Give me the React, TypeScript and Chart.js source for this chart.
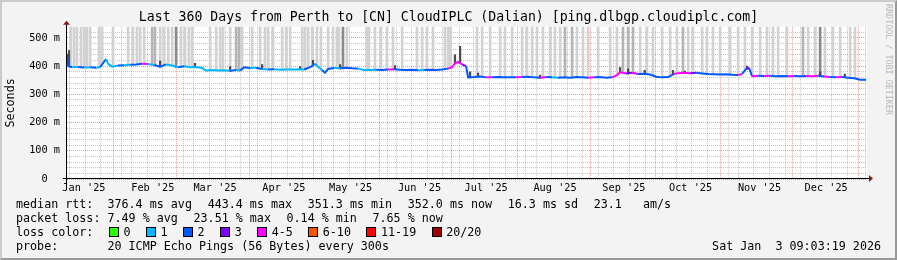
import React, { useEffect, useRef } from 'react';
import { Chart, registerables } from 'chart.js';

Chart.register(...registerables);

const FONT = "'DejaVu Sans Mono', monospace";

// ---- time window: last 360 days ending Sat Jan 3 2026 09:03:19 (Perth, UTC+8)
const END_UTC = Date.UTC(2026, 0, 3, 1, 3, 19);
const SPAN_DAYS = 360;
const START_UTC = END_UTC - SPAN_DAYS * 86400000;
const TZ_MS = 8 * 3600000;
const dayOf = (y: number, m: number, d: number) => (Date.UTC(y, m, d) - TZ_MS - START_UTC) / 86400000;

// ---- axes
const Y_MAX = 539;
const yMajorStep = 100;
const yMinorStep = 20;
const monthStarts: [number, number][] = [
  [2025, 0], [2025, 1], [2025, 2], [2025, 3], [2025, 4], [2025, 5], [2025, 6],
  [2025, 7], [2025, 8], [2025, 9], [2025, 10], [2025, 11], [2026, 0],
];
const monthLabels = ["Jan '25", "Feb '25", "Mar '25", "Apr '25", "May '25", "Jun '25", "Jul '25",
  "Aug '25", "Sep '25", "Oct '25", "Nov '25", "Dec '25", "Jan '26"];
const firstMonday: [number, number, number] = [2025, 0, 13];

// ---- median rtt (ms), sample day offsets and loss colour bucket
const medianDays = [
  0, 0.5, 2.3, 5.0, 7.7, 10.4, 13.1, 14.9, 16.2, 17.6,
  18.5, 20.3, 23.0, 25.7, 28.4, 31.1, 33.8, 36.5, 39.2, 41.9,
  44.6, 47.3, 50.0, 52.7, 55.4, 58.1, 60.8, 62.6, 65.3, 68.0,
  70.7, 73.4, 76.1, 77.9, 79.7, 82.4, 85.1, 87.8, 90.5, 93.2,
  95.9, 98.6, 101.3, 104.0, 106.7, 109.4, 111.6, 113.0, 114.8, 116.1,
  117.5, 120.2, 122.9, 125.6, 128.3, 131.0, 133.7, 136.4, 139.1, 141.8,
  144.5, 147.2, 149.9, 152.6, 155.3, 158.0, 160.7, 163.4, 166.1, 168.8,
  171.5, 173.3, 174.6, 176.0, 177.8, 179.6, 180.5, 183.2, 185.9, 188.6,
  191.3, 194.0, 196.7, 199.4, 202.1, 204.8, 207.5, 210.2, 212.9, 215.6,
  218.3, 221.0, 223.7, 226.4, 229.1, 231.8, 234.5, 237.2, 239.9, 242.6,
  245.3, 247.5, 248.9, 251.6, 254.3, 257.0, 259.7, 262.4, 265.1, 267.8,
  270.5, 273.2, 275.0, 277.7, 280.4, 283.1, 285.8, 288.5, 291.2, 293.9,
  296.6, 299.3, 302.0, 303.8, 305.6, 306.9, 308.3, 311.0, 313.7, 316.4,
  319.1, 321.8, 324.5, 327.2, 329.9, 332.6, 335.3, 338.0, 340.7, 343.4,
  346.1, 348.8, 351.5, 354.2, 356.9, 359.6,
];
const medianMs = [
  443, 400, 396, 397, 395, 396, 394, 396, 410, 425,
  408, 398, 402, 403, 405, 406, 408, 407, 404, 398,
  406, 402, 396, 399, 396, 397, 393, 384, 386, 384,
  385, 383, 386, 384, 396, 393, 394, 390, 388, 389,
  387, 388, 388, 389, 388, 396, 408, 398, 386, 376,
  390, 393, 392, 394, 392, 391, 386, 386, 387, 386,
  388, 389, 387, 386, 387, 385, 386, 387, 386, 388,
  391, 396, 410, 415, 406, 400, 360, 361, 363, 360,
  360, 361, 360, 360, 360, 361, 362, 360, 359, 361,
  360, 359, 360, 359, 361, 360, 359, 360, 361, 359,
  360, 368, 378, 374, 376, 372, 373, 370, 362, 360,
  361, 372, 375, 376, 375, 376, 374, 372, 371, 370,
  371, 369, 368, 372, 390, 394, 364, 366, 365, 366,
  364, 365, 364, 365, 364, 365, 364, 366, 363, 361,
  360, 361, 359, 357, 352, 352,
];
const medianLoss = [
  4, 2, 2, 1, 2, 1, 2, 1, 2, 2,
  1, 1, 1, 2, 1, 2, 2, 4, 1, 2,
  2, 1, 1, 2, 1, 1, 1, 1, 1, 1,
  1, 1, 2, 1, 2, 2, 1, 2, 1, 2,
  1, 1, 1, 1, 1, 2, 2, 1, 1, 2,
  2, 2, 1, 2, 2, 2, 1, 1, 1, 2,
  2, 4, 2, 2, 2, 2, 1, 2, 2, 2,
  2, 4, 4, 4, 4, 3, 2, 2, 2, 2,
  4, 2, 2, 2, 2, 4, 2, 2, 2, 4,
  2, 1, 2, 2, 2, 2, 2, 4, 2, 2,
  2, 4, 4, 4, 3, 4, 2, 2, 2, 2,
  2, 2, 4, 4, 4, 3, 2, 2, 2, 2,
  2, 2, 2, 4, 2, 3, 2, 4, 2, 4,
  2, 2, 2, 4, 2, 2, 4, 4, 2, 4,
  2, 4, 2, 2, 2, 2,
];

// ---- smoke spikes (days where the ping spread runs off the top of the graph)
const lightSpikeDays = [
  1.8, 3.2, 4.5, 6.3, 7.7, 9.0, 10.4, 14.4, 15.8, 20.7, 27.5, 29.7, 31.5, 32.9, 34.7,
  41.9, 43.7, 45.5, 47.3, 51.3, 53.1, 54.9, 56.3, 64.4, 67.1, 68.9, 70.2, 73.4, 78.8,
  83.3, 86.9, 89.1, 90.5, 92.7, 96.8, 98.6, 100.4, 105.8, 107.1, 108.5, 110.3, 112.5,
  114.3, 117.5, 119.7, 121.5, 122.4, 126.0, 135.0, 135.9, 138.6, 141.3, 144.0, 146.7,
  150.8, 157.5, 159.8, 162.0, 164.7, 170.1, 171.5, 172.4, 184.5, 186.8, 190.4, 194.9,
  197.1, 200.3, 204.8, 207.0, 209.3, 211.5, 214.2, 217.4, 219.6, 221.9, 229.5, 232.2,
  234.5, 239.0, 244.4, 247.5, 257.9, 261.0, 263.7, 267.8, 271.4, 274.5, 279.5, 281.7,
  285.8, 288.0, 290.7, 293.9, 298.4, 302.0, 305.1, 308.3, 311.9, 315.0, 317.7, 320.0,
  324.0, 333.5, 336.6, 341.1, 344.7, 347.9, 352.4, 354.6,
];
const midSpikeDays = [38.3, 39.6, 76.1, 77.4, 224.1, 227.3, 250.2, 252.5, 254.7, 277.2, 331.2];
const darkSpikeDays = [49.1, 124.2, 338.9];
// short dark smoke just above the median
const nearSmokeDays = [0.9, 41.9, 57.6, 73.4, 87.8, 104.9, 110.7, 122.9, 147.6, 174.6, 176.9, 181.4,
  185.0, 212.9, 248.9, 252.5, 260.0, 272.7, 278.0, 306.0, 338.9, 350.0];
const nearSmokeTops = [455, 418, 410, 398, 405, 398, 420, 405, 402, 440, 470, 380,
  375, 368, 395, 390, 385, 385, 382, 400, 380, 372];

const lossColors = ['#26ff00', '#00b8ff', '#0059ff', '#7e00ff', '#ff00ff', '#ff5500', '#ff0000', '#a00000'];
const lossLabels = ['0', '1', '2', '3', '4-5', '6-10', '11-19', '20/20'];

// ---- legend texts
const rttItems = ['median rtt:  376.4 ms avg', '443.4 ms max', '351.3 ms min', '352.0 ms now', '16.3 ms sd', '23.1   am/s'];
const lossItems = ['packet loss: 7.49 % avg', '23.51 % max', '0.14 % min', '7.65 % now'];
const probeLine = 'probe:       20 ICMP Echo Pings (56 Bytes) every 300s';
const stamp = 'Sat Jan  3 09:03:19 2026';
const title = 'Last 360 Days from Perth to [CN] CloudIPLC (Dalian) [ping.dlbgp.cloudiplc.com]';

function medianAt(day: number) {
  let best = 0;
  for (let i = 1; i < medianDays.length; i++) {
    if (Math.abs(medianDays[i] - day) < Math.abs(medianDays[best] - day)) best = i;
  }
  return medianMs[best];
}

const rrdFrame = {
  id: 'rrdFrame',
  beforeDraw(chart: any) {
    const { ctx, chartArea: a } = chart;
    ctx.save();
    ctx.fillStyle = '#ffffff';
    ctx.fillRect(a.left, a.top, a.right - a.left, a.bottom - a.top);
    ctx.restore();
  },
  afterDraw(chart: any) {
    const { ctx, chartArea: a } = chart;
    const x0 = Math.round(a.left) - 0.5;
    const y0 = Math.round(a.bottom) - 0.5;
    ctx.save();
    ctx.strokeStyle = '#000';
    ctx.lineWidth = 1;
    ctx.beginPath();
    ctx.moveTo(x0, a.bottom + 4);
    ctx.lineTo(x0, a.top - 3);
    ctx.moveTo(a.left - 4, y0);
    ctx.lineTo(a.right + 3, y0);
    ctx.stroke();
    ctx.fillStyle = '#8b1a1a';
    ctx.beginPath();
    ctx.moveTo(x0 - 3.5, a.top - 2);
    ctx.lineTo(x0 + 3.5, a.top - 2);
    ctx.lineTo(x0, a.top - 6);
    ctx.closePath();
    ctx.fill();
    ctx.beginPath();
    ctx.moveTo(a.right + 2, y0 - 3.5);
    ctx.lineTo(a.right + 2, y0 + 3.5);
    ctx.lineTo(a.right + 6, y0);
    ctx.closePath();
    ctx.fill();
    ctx.restore();
  },
};

const MINOR = 'rgba(120,120,120,0.42)';
const MAJOR = 'rgba(230,70,70,0.55)';
const CH = 7.045; // advance of one legend character
const GAP = 15.5; // space between legend items

export default function App() {
  const ref = useRef<HTMLCanvasElement>(null);

  useEffect(() => {
    const monthDays = monthStarts.map(([y, m]) => dayOf(y, m, 1));
    const weekDays: number[] = [];
    for (let d = dayOf(...firstMonday); d < SPAN_DAYS; d += 7) weekDays.push(d);

    const spike = (days: number[], color: string, order: number, label: string) => ({
      type: 'bar' as const,
      label,
      data: days.map((d) => ({ x: d, y: [medianAt(d) - 2, Y_MAX] })),
      backgroundColor: color,
      barThickness: 2,
      grouped: false,
      order,
    });

    const chart = new Chart(ref.current!, {
      type: 'line',
      data: {
        datasets: [
          {
            type: 'line',
            label: 'median',
            data: medianDays.map((d, i) => ({ x: d, y: medianMs[i] })),
            borderWidth: 2,
            pointRadius: 0,
            borderColor: lossColors[2],
            segment: { borderColor: (c: any) => lossColors[medianLoss[c.p1DataIndex]] },
            order: 0,
          } as any,
          {
            type: 'bar',
            label: 'near',
            data: nearSmokeDays.map((d, i) => ({ x: d, y: [medianAt(d) - 2, nearSmokeTops[i]] })),
            backgroundColor: '#4a4a4a',
            barThickness: 1.5,
            grouped: false,
            order: 1,
          } as any,
          spike(darkSpikeDays, '#8a8a8a', 2, 'dark'),
          spike(midSpikeDays, '#b4b4b4', 3, 'mid'),
          spike(lightSpikeDays, '#d2d2d2', 4, 'light'),
        ],
      },
      options: {
        animation: false,
        responsive: false,
        layout: { padding: 0 },
        plugins: {
          legend: { display: false },
          tooltip: { enabled: false },
          title: {
            display: true,
            text: title,
            color: '#000',
            font: { family: FONT, size: 13.2, weight: 'normal', lineHeight: 1.2 },
            padding: { top: 10, bottom: 1 },
          },
        },
        scales: {
          x: {
            type: 'linear',
            min: 0,
            max: SPAN_DAYS,
            offset: false,
            ticks: { display: false, autoSkip: false },
            grid: {
              drawTicks: false,
              color: (c: any) => (c.tick && c.tick.major ? MAJOR : MINOR),
            },
            border: { display: false, dash: [1, 1] },
            afterBuildTicks: (s: any) => {
              const t = [
                ...weekDays.map((v) => ({ value: v, major: false })),
                ...monthDays.filter((v) => v > 0 && v < SPAN_DAYS).map((v) => ({ value: v, major: true })),
              ];
              t.sort((a, b) => a.value - b.value);
              s.ticks = t;
            },
            afterFit: (s: any) => { s.height = 0; },
          },
          xl: {
            type: 'linear',
            position: 'bottom',
            min: 0,
            max: SPAN_DAYS,
            offset: false,
            grid: { display: false, drawTicks: false },
            border: { display: false },
            ticks: {
              autoSkip: false,
              maxRotation: 0,
              padding: 3,
              color: '#000',
              font: { family: FONT, size: 10.26 },
              callback: (v: any) => {
                const i = monthDays.findIndex((m) => Math.abs(m + 15 - v) < 0.01);
                return i >= 0 ? monthLabels[i] : '';
              },
            },
            afterBuildTicks: (s: any) => {
              s.ticks = monthDays.map((m) => ({ value: m + 15 })).filter((t) => t.value > 0 && t.value < SPAN_DAYS);
            },
            afterFit: (s: any) => { s.height = 81; },
          },
          y: {
            type: 'linear',
            min: 0,
            max: Y_MAX,
            grid: {
              drawTicks: false,
              color: (c: any) => (c.tick && c.tick.value % yMajorStep === 0 ? MAJOR : MINOR),
            },
            border: { display: false, dash: [1, 1] },
            ticks: {
              autoSkip: false,
              padding: 7,
              color: '#000',
              font: { family: FONT, size: 10.26 },
              callback: (v: any) => (v % yMajorStep === 0 ? (v === 0 ? '0  ' : `${v} m`) : ''),
            },
            afterBuildTicks: (s: any) => {
              const t = [];
              for (let v = 0; v < Y_MAX; v += yMinorStep) t.push({ value: v });
              s.ticks = t;
            },
            afterFit: (s: any) => { s.width = 67; },
            title: {
              display: true,
              text: 'Seconds',
              color: '#000',
              font: { family: FONT, size: 11.7 },
              padding: { top: 4, bottom: 0 },
            },
          },
          yr: {
            type: 'linear',
            position: 'right',
            min: 0,
            max: Y_MAX,
            grid: { display: false, drawTicks: false },
            border: { display: false },
            ticks: { display: false },
            afterFit: (s: any) => { s.width = 30; },
          },
        },
      },
      plugins: [rrdFrame],
    } as any);
    return () => chart.destroy();
  }, []);

  const flow = (items: string[], x0: number) => {
    const xs: number[] = [];
    let x = x0;
    for (const s of items) { xs.push(x); x += s.length * CH + GAP; }
    return xs;
  };
  const rttX = flow(rttItems, 16);
  const lossX = flow(lossItems, 16);
  const boxX: number[] = [];
  {
    let x = 16 + 'loss color:'.length * CH + GAP;
    for (const s of lossLabels) { boxX.push(x); x += 14.5 + s.length * CH + GAP; }
  }
  const txt = (s: string, x: number, y: number, key: string) => (
    <span key={key} style={{ position: 'absolute', left: x, top: y, whiteSpace: 'pre', lineHeight: '14px' }}>{s}</span>
  );

  return (
    <div style={{ position: 'absolute', left: 0, top: 0, width: 897, height: 260, background: '#f3f3f3', overflow: 'hidden', fontFamily: FONT, fontSize: 11.7, color: '#000' }}>
      <canvas ref={ref} width={897} height={260} style={{ position: 'absolute', left: 0, top: 0 }} />
      {rttItems.map((s, i) => txt(s, rttX[i], 197, 'r' + i))}
      {lossItems.map((s, i) => txt(s, lossX[i], 211, 'l' + i))}
      {txt('loss color:', 16, 225, 'lc')}
      {lossLabels.map((s, i) => (
        <React.Fragment key={'b' + i}>
          <span style={{ position: 'absolute', left: boxX[i], top: 227, width: 10, height: 10, boxSizing: 'border-box', border: '1px solid #000', background: lossColors[i] }} />
          {txt(s, boxX[i] + 14.5, 225, 'bl' + i)}
        </React.Fragment>
      ))}
      {txt(probeLine, 16, 239, 'probe')}
      <span style={{ position: 'absolute', right: 16, top: 239, whiteSpace: 'pre', lineHeight: '14px' }}>{stamp}</span>
      <span style={{ position: 'absolute', left: 884, top: 4, writingMode: 'vertical-rl', fontSize: 8.4, color: '#b8b8b8', whiteSpace: 'pre', lineHeight: '10px' }}>RRDTOOL / TOBI OETIKER</span>
      <div style={{ position: 'absolute', left: 0, top: 0, width: 897, height: 260, boxSizing: 'border-box', borderStyle: 'solid', borderWidth: 2, borderColor: '#cbcbcb #999 #999 #cbcbcb', pointerEvents: 'none' }} />
    </div>
  );
}
